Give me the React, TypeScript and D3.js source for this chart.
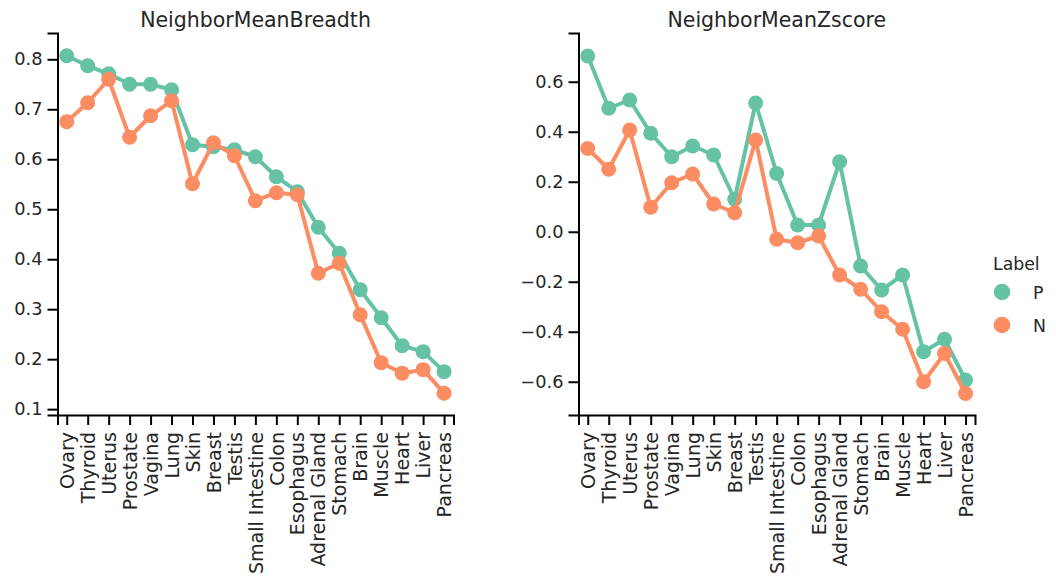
import React, { useRef, useEffect } from 'react';
import * as d3 from 'd3';

const categories = ['Ovary', 'Thyroid', 'Uterus', 'Prostate', 'Vagina', 'Lung', 'Skin', 'Breast', 'Testis',
  'Small Intestine', 'Colon', 'Esophagus', 'Adrenal Gland', 'Stomach', 'Brain', 'Muscle', 'Heart', 'Liver', 'Pancreas'];

const breadthP = [0.807, 0.787, 0.771, 0.75, 0.75, 0.739, 0.629, 0.625, 0.619, 0.605, 0.565, 0.535, 0.464, 0.412, 0.339, 0.283, 0.227, 0.215, 0.175];
const breadthN = [0.675, 0.713, 0.76, 0.644, 0.687, 0.717, 0.551, 0.633, 0.607, 0.517, 0.533, 0.529, 0.372, 0.392, 0.289, 0.193, 0.172, 0.179, 0.132];

const zscoreP = [0.703, 0.494, 0.527, 0.394, 0.3, 0.343, 0.307, 0.13, 0.515, 0.233, 0.027, 0.027, 0.28, -0.137, -0.233, -0.173, -0.48, -0.43, -0.593];
const zscoreN = [0.333, 0.25, 0.407, 0.098, 0.196, 0.231, 0.111, 0.076, 0.367, -0.03, -0.044, -0.017, -0.173, -0.23, -0.32, -0.39, -0.6, -0.487, -0.647];

const breadthTicks = [0.1, 0.2, 0.3, 0.4, 0.5, 0.6, 0.7, 0.8];
const zscoreTicks = [-0.6, -0.4, -0.2, 0.0, 0.2, 0.4, 0.6];

const labels = ['P', 'N'];
const colors = { P: '#66c2a5', N: '#fc8d62' };

const FONT = 'DejaVu Sans, sans-serif';

const App = () => {
  const svgRef = useRef(null);

  useEffect(() => {
    const width = 1056;
    const height = 581;
    const svg = d3.select(svgRef.current)
      .attr('width', width)
      .attr('height', height)
      .html('');

    svg.append('rect').attr('width', width).attr('height', height).attr('fill', '#fff');

    const top = 33;
    const bottom = 415;

    const panels = [
      { title: 'NeighborMeanBreadth', left: 57.5, right: 453.5, domain: [0.0883, 0.8526], ticks: breadthTicks, P: breadthP, N: breadthN },
      { title: 'NeighborMeanZscore', left: 578.5, right: 975, domain: [-0.733, 0.795], ticks: zscoreTicks, P: zscoreP, N: zscoreN },
    ];
    const fmt = d3.format('.1f');

    panels.forEach(p => {
      const x = d3.scaleLinear().domain([-0.44, categories.length - 1 + 0.45]).range([p.left, p.right]);
      const y = d3.scaleLinear().domain(p.domain).range([bottom, top]);
      const g = svg.append('g');

      // title
      g.append('text')
        .attr('x', (p.left + p.right) / 2)
        .attr('y', 27)
        .attr('text-anchor', 'middle')
        .style('font-family', FONT)
        .style('font-size', '20.5px')
        .style('fill', '#262626')
        .text(p.title);

      // y axis
      const yAxis = g.append('g')
        .attr('transform', `translate(${p.left},0)`)
        .call(d3.axisLeft(y).tickValues(p.ticks).tickFormat(d => fmt(d).replace('-', '\u2212')).tickSizeOuter(0).tickSize(10).tickPadding(5));
      yAxis.select('.domain').attr('stroke', '#000').attr('stroke-width', 2);
      yAxis.selectAll('.tick line').attr('stroke', '#000').attr('stroke-width', 2);
      yAxis.selectAll('.tick text')
        .style('font-family', FONT)
        .style('font-size', '17.8px')
        .attr('fill', '#262626');

      // x axis
      const xAxis = g.append('g')
        .attr('transform', `translate(0,${bottom})`)
        .call(d3.axisBottom(x).tickValues(d3.range(categories.length)).tickFormat(i => categories[i]).tickSizeOuter(0).tickSize(10));
      xAxis.select('.domain').attr('stroke', '#000').attr('stroke-width', 2);
      xAxis.selectAll('.tick line').attr('stroke', '#000').attr('stroke-width', 2);
      xAxis.selectAll('.tick text')
        .attr('transform', 'rotate(-90)')
        .attr('x', -17)
        .attr('y', 0)
        .attr('dy', '0.35em')
        .attr('text-anchor', 'end')
        .style('font-family', FONT)
        .style('font-size', '19px')
        .attr('fill', '#262626');

      // lines + points
      labels.forEach(lab => {
        const vals = p[lab];
        const line = d3.line().x((d, i) => x(i)).y(d => y(d));
        g.append('path')
          .datum(vals)
          .attr('fill', 'none')
          .attr('stroke', colors[lab])
          .attr('stroke-width', 4)
          .attr('stroke-linejoin', 'round')
          .attr('d', line);
        g.selectAll(null)
          .data(vals)
          .enter()
          .append('circle')
          .attr('cx', (d, i) => x(i))
          .attr('cy', d => y(d))
          .attr('r', 7.5)
          .attr('fill', colors[lab]);
      });
    });

    // legend
    const lg = svg.append('g');
    lg.append('text')
      .attr('x', 993)
      .attr('y', 270)
      .style('font-family', FONT)
      .style('font-size', '17.3px')
      .style('fill', '#262626')
      .text('Label');
    labels.forEach((lab, i) => {
      const cy = 292 + i * 33;
      lg.append('circle').attr('cx', 1002).attr('cy', cy).attr('r', 8.3).attr('fill', colors[lab]);
      lg.append('text')
        .attr('x', 1033)
        .attr('y', cy + 6.5)
        .style('font-family', FONT)
        .style('font-size', '17.3px')
        .style('fill', '#262626')
        .text(lab);
    });
  }, []);

  return <svg ref={svgRef} style={{ position: 'absolute', left: 0, top: 0 }}></svg>;
};

export default App;
